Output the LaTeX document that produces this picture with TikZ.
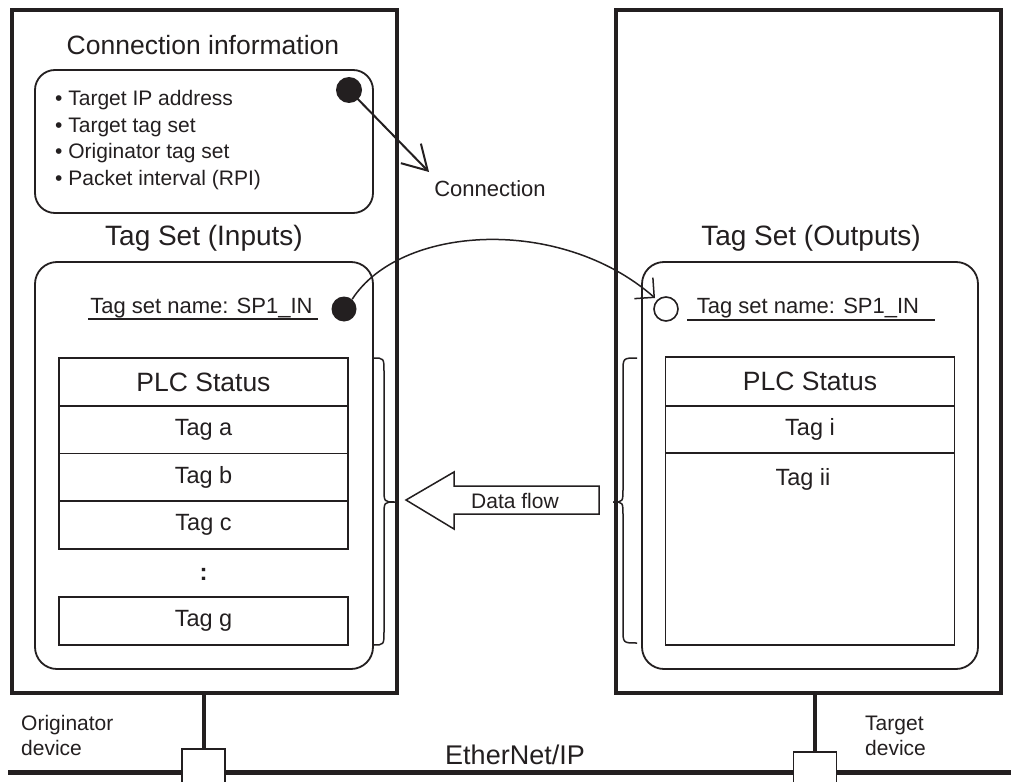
\documentclass[tikz,border=0pt]{standalone}
\usepackage{fontspec}
\setmainfont{Liberation Sans}
\usetikzlibrary{arrows.meta}
\definecolor{ink}{HTML}{231F20}
\begin{document}
\begin{tikzpicture}[x=1pt,y=-1pt,
  outer/.style={draw=ink,line width=3.5pt,inner sep=0pt},
  rbox/.style={draw=ink,line width=1.8pt,rounded corners=22pt,inner sep=0pt},
  cell/.style={draw=ink,line width=1.8pt,minimum width=289pt,inner sep=0pt,text=ink,font=\fontsize{23.5}{28}\selectfont},
  bigtxt/.style={text=ink,inner sep=0pt,font=\fontsize{27}{32}\selectfont},
  midtxt/.style={text=ink,inner sep=0pt,font=\fontsize{22}{26}\selectfont},
  smalltxt/.style={text=ink,inner sep=0pt,font=\fontsize{21}{25}\selectfont},
  port/.style={draw=ink,fill=white,line width=1.8pt,minimum width=43pt,inner sep=0pt},
  fdot/.style={circle,fill=ink,inner sep=0pt},
  odotstyle/.style={circle,draw=ink,fill=white,line width=1.6pt,inner sep=0pt,minimum size=24pt},
  wire/.style={draw=ink,line width=4pt},
  brace/.style={draw=ink,line width=1.5pt}
]
\useasboundingbox (0,0) rectangle (1011,781);
\fill[white] (0,0) rectangle (1011,781);

% Ethernet bus
\coordinate (eL) at (8,772);
\coordinate (eR) at (1015,772);
\draw[ink,line width=5pt] (eL) -- (eR);
\node[smalltxt,font=\fontsize{27}{32}\selectfont] (eth) at (515,755) {EtherNet/IP};

% device frames
\node[outer,minimum width=385pt,minimum height=683pt] (orig) at (204.5,351.5) {};
\node[outer,minimum width=385pt,minimum height=683pt] (targ) at (808.5,351.5) {};

% ports
\node[port,minimum height=46pt] (osq) at (203.5,772) {};
\node[port,minimum height=44pt] (tsq) at (815,774) {};
\draw[wire] (osq.north) -- (osq.north |- orig.south);
\draw[wire] (tsq.north) -- (tsq.north |- targ.south);

\node[smalltxt,align=left,anchor=west] (olbl) at (21,735.5) {Originator\\device};
\node[smalltxt,align=left,anchor=west] (tlbl) at (865,735.5) {Target\\device};

% Connection information
\node[bigtxt,font=\fontsize{26.5}{32}\selectfont] (cititle) at (203,45) {Connection information};
\node[rbox,rounded corners=20pt,minimum width=338pt,minimum height=143pt] (ci) at (204,141.5) {};
\node[smalltxt,align=left,anchor=west,font=\fontsize{21}{26.6}\selectfont] (cilist) at (55,140)
  {• Target IP address\\• Target tag set\\• Originator tag set\\• Packet interval (RPI)};
\node[fdot,minimum size=26pt] (cdot) at (349,90) {};
\coordinate (ctip) at (429,172);
\node[midtxt] (connlbl) at (490,189) {Connection};
\draw[ink,line width=2pt,-{Straight Barb[length=24pt,width=28pt,line width=2pt]}] (cdot.center) -- (ctip);

% Tag set (Inputs)
\node[bigtxt,font=\fontsize{28}{32}\selectfont] (intitle) at (204,238) {Tag Set (Inputs)};
\node[rbox,minimum width=338pt,minimum height=407pt] (inbox) at (204,465.5) {};
\node[midtxt] (inname) at (201.5,308) {Tag set name: SP1\_IN};
\draw[ink,line width=1.3pt] (88,319) -- (318,319);
\node[fdot,minimum size=25pt] (idot) at (344,309) {};

\node[cell,minimum height=47.75pt,font=\fontsize{26.5}{30}\selectfont] (ia) at (203.5,381.9) {PLC Status};
\node[cell,minimum height=47.75pt] (ib) at (203.5,429.6) {Tag a};
\node[cell,minimum height=47.75pt] (ic) at (203.5,477.4) {Tag b};
\node[cell,minimum height=47.75pt] (id) at (203.5,525.1) {Tag c};
\node[text=ink,inner sep=0pt,font=\fontsize{24}{28}\bfseries] (idots) at (203.5,574) {:};
\node[cell,minimum height=48pt] (ig) at (203.5,621) {Tag g};

\draw[brace] (373,358) .. controls (384,358) .. (384,372) -- (384,488)
  .. controls (384,502) .. (395,502) .. controls (384,502) .. (384,516)
  -- (384,631) .. controls (384,645) .. (373,645);

% Tag set (Outputs)
\node[bigtxt,font=\fontsize{28}{32}\selectfont] (outtitle) at (811,238) {Tag Set (Outputs)};
\node[rbox,minimum width=336pt,minimum height=407pt] (outbox) at (810,465.5) {};
\node[midtxt] (outname) at (808,308) {Tag set name: SP1\_IN};
\draw[ink,line width=1.3pt] (687,320) -- (935,320);
\node[odotstyle] (odot) at (666,309) {};

\node[cell,minimum height=49pt,font=\fontsize{26.5}{30}\selectfont] (oa) at (810,381.5) {PLC Status};
\node[cell,minimum height=47pt] (ob) at (810,429.5) {Tag i};
\node[cell,minimum height=192pt] (oc) at (810,549) {};
\node[cell,draw=none,minimum height=0pt,minimum width=0pt] (octxt) at (803,479) {Tag ii};

\draw[brace] (637,358) .. controls (623,358) .. (623,372) -- (623,488)
  .. controls (623,502) .. (613,502) .. controls (623,502) .. (623,516)
  -- (623,629) .. controls (623,643) .. (637,643);

% curved connection arrow
\coordinate (otip) at (655,298);
\draw[ink,line width=1.5pt,-{Straight Barb[length=14pt,width=28pt,line width=1.5pt]}]
  (idot.50) .. controls (400,225) and (560,215) .. (otip);

% data flow arrow
\draw[ink,line width=1.5pt,fill=white,line join=miter] (406,500) -- (454,472) -- (454,486) -- (599,486)
  -- (599,514) -- (454,514) -- (454,529) -- cycle;
\node[smalltxt] (df) at (515,501) {Data flow};
\end{tikzpicture}
\end{document}
